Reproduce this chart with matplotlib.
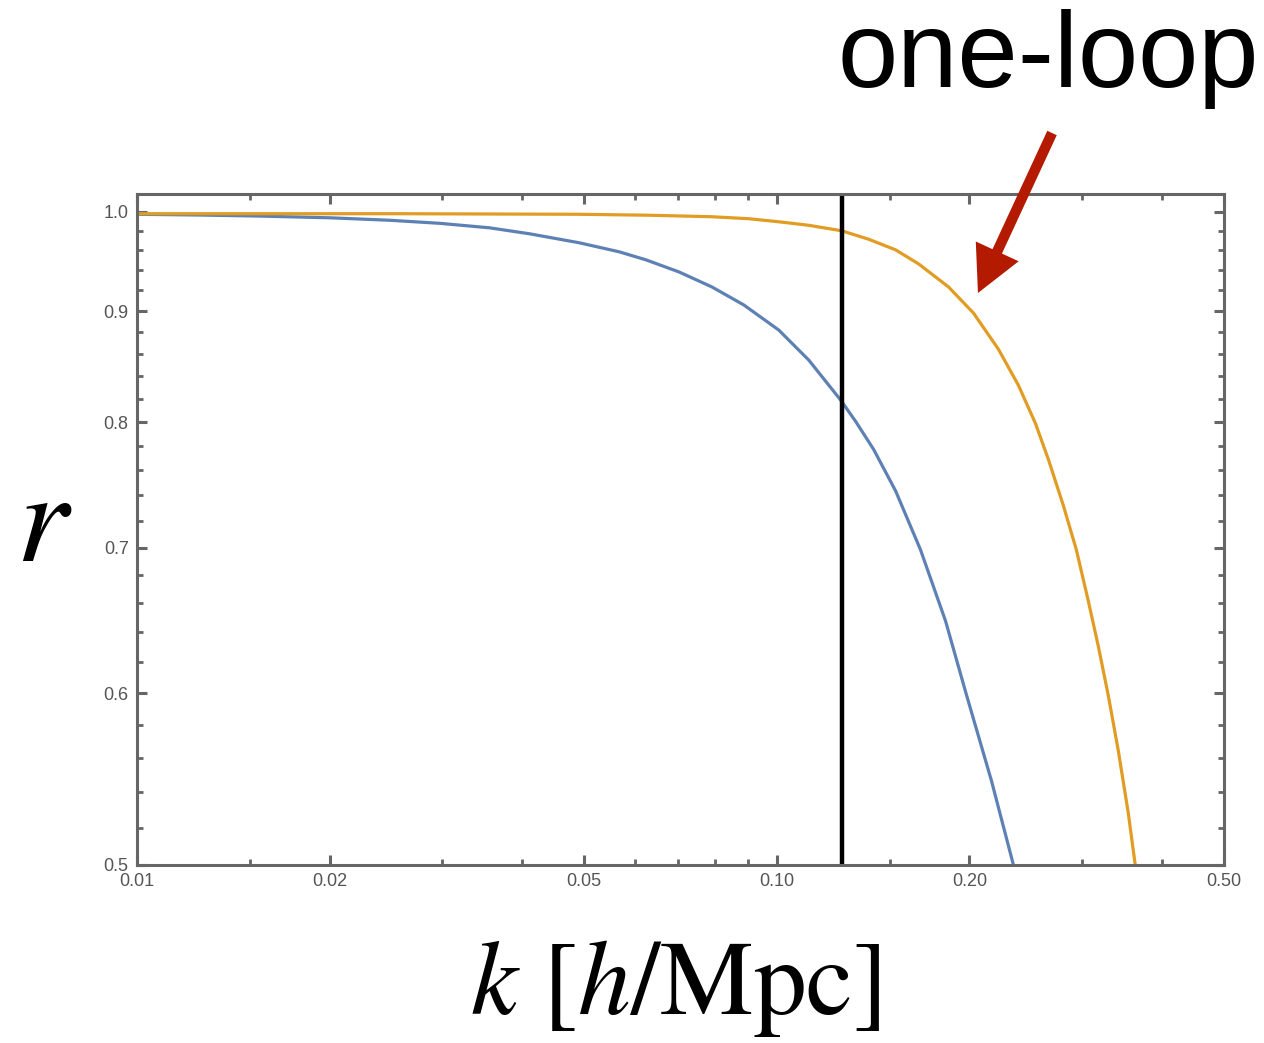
import numpy as np
import matplotlib
matplotlib.use("Agg")
import matplotlib.pyplot as plt
from matplotlib.ticker import FixedLocator, NullFormatter

plt.rcParams['mathtext.fontset'] = 'stix'

# values
k_blue = [0.0100, 0.01254, 0.01555, 0.0200, 0.02481, 0.0297, 0.03554, 0.04104, 0.04911,
          0.05668, 0.06246, 0.07033, 0.07916, 0.0888, 0.1007, 0.1122, 0.1258, 0.1328,
          0.1417, 0.1533, 0.1677, 0.1835, 0.1979, 0.2165, 0.2343]
r_blue = [0.9973, 0.9965, 0.9954, 0.9936, 0.9910, 0.9878, 0.9831, 0.9769, 0.9676,
          0.9584, 0.9502, 0.9381, 0.9233, 0.9058, 0.8820, 0.8543, 0.8189, 0.8005,
          0.7770, 0.7437, 0.6986, 0.6478, 0.5988, 0.5467, 0.5000]

k_orange = [0.0100, 0.02572, 0.04911, 0.06314, 0.07916, 0.09045, 0.1007, 0.1122, 0.1263,
            0.1392, 0.1533, 0.1665, 0.1855, 0.2029, 0.2219, 0.2385, 0.2536, 0.2657,
            0.2804, 0.2938, 0.3067, 0.3179, 0.3295, 0.3416, 0.3541, 0.3632]
r_orange = [0.9979, 0.9979, 0.9973, 0.9963, 0.9947, 0.9926, 0.9894, 0.9857, 0.9800,
            0.9712, 0.9604, 0.9462, 0.9233, 0.8981, 0.8644, 0.8319, 0.7989, 0.7689,
            0.7322, 0.6987, 0.6618, 0.6309, 0.5989, 0.5648, 0.5287, 0.5000]

k_cut = 0.1265

xmajor = [0.01, 0.02, 0.05, 0.10, 0.20, 0.50]
xlabels = ['0.01', '0.02', '0.05', '0.10', '0.20', '0.50']
xminor = [0.015, 0.03, 0.04, 0.06, 0.07, 0.08, 0.09, 0.15, 0.3, 0.4]
ymajor = [0.5, 0.6, 0.7, 0.8, 0.9, 1.0]
ylabels = ['0.5', '0.6', '0.7', '0.8', '0.9', '1.0']
yminor = [round(0.5 + 0.02 * i, 2) for i in range(26) if i % 5 != 0]

gray = '#666666'

fig = plt.figure(figsize=(12.64, 10.43), dpi=100)
ax = fig.add_axes([0.1084, 0.1707, 0.8600, 0.6433])

ax.plot(k_blue, r_blue, color='#5E81B5', lw=2.3, solid_joinstyle='round')
ax.plot(k_orange, r_orange, color='#E19C24', lw=2.3, solid_joinstyle='round')
ax.axvline(k_cut, color='black', lw=3.2)

ax.set_xscale('log')
ax.set_yscale('log')
ax.set_xlim(0.01, 0.5)
ax.set_ylim(0.5, 1.019)

ax.xaxis.set_major_locator(FixedLocator(xmajor))
ax.xaxis.set_minor_locator(FixedLocator(xminor))
ax.set_xticklabels(xlabels)
ax.xaxis.set_minor_formatter(NullFormatter())
ax.yaxis.set_major_locator(FixedLocator(ymajor))
ax.yaxis.set_minor_locator(FixedLocator(yminor))
ax.set_yticklabels(ylabels)
ax.yaxis.set_minor_formatter(NullFormatter())

for s in ax.spines.values():
    s.set_color(gray)
    s.set_linewidth(2.2)
ax.tick_params(which='both', direction='in', top=True, right=True, color=gray,
               labelcolor='#555555', labelsize=13, pad=6)
ax.tick_params(which='major', length=7, width=2.2)
ax.tick_params(which='minor', length=4, width=2.0)
for lab in ax.get_xticklabels() + ax.get_yticklabels():
    lab.set_fontfamily('Liberation Sans')

fig.text(0.035, 0.497, r'$r$', fontsize=95, ha='center', va='center')
fig.text(0.534, 0.028, r'$k\ [h/\mathrm{Mpc}]$', fontsize=76, ha='center', va='baseline')
fig.text(0.8295, 0.917, 'one-loop', fontsize=78, family='Liberation Sans',
         ha='center', va='baseline')

ax.annotate('', xy=(0.7737, 0.7191), xytext=(0.8323, 0.8725),
            xycoords='figure fraction', textcoords='figure fraction',
            arrowprops=dict(arrowstyle='simple,head_length=3.3,head_width=3.4,tail_width=0.75',
                            mutation_scale=10, color='#B31A00', shrinkA=0, shrinkB=0, lw=0))

fig.savefig('out.png', dpi=100, facecolor='white')
